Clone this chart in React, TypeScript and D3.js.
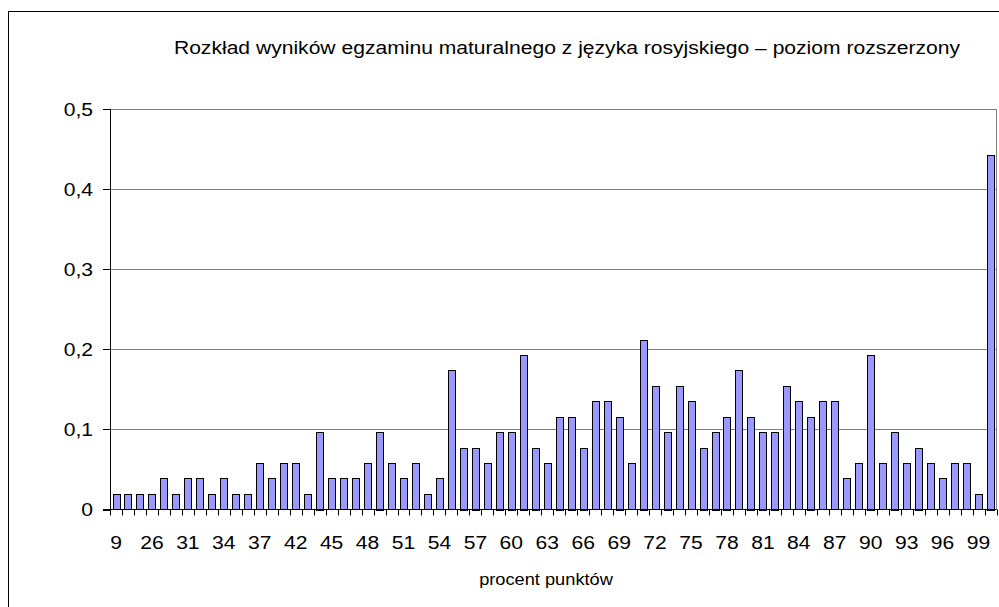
import React from 'react';
import { scaleBand, scaleLinear } from 'd3';

// score categories (percent of points), one bar each
const categories = [
  '9', '20', '23', '26', '28', '29', '31', '32', '33', '34', '35', '36', '37', '39', '40',
  '42', '43', '44', '45', '46', '47', '48', '49', '50', '51', '52', '53', '54', '55', '56',
  '57', '58', '59', '60', '61', '62', '63', '64', '65', '66', '67', '68', '69', '70', '71',
  '72', '73', '74', '75', '76', '77', '78', '79', '80', '81', '82', '83', '84', '85', '86',
  '87', '88', '89', '90', '91', '92', '93', '94', '95', '96', '97', '98', '99', '100',
];

const values = [
  0.019, 0.019, 0.019, 0.019, 0.039, 0.019, 0.039, 0.039, 0.019, 0.039, 0.019, 0.019, 0.058, 0.039, 0.058,
  0.058, 0.019, 0.097, 0.039, 0.039, 0.039, 0.058, 0.097, 0.058, 0.039, 0.058, 0.019, 0.039, 0.174, 0.077,
  0.077, 0.058, 0.097, 0.097, 0.193, 0.077, 0.058, 0.116, 0.116, 0.077, 0.135, 0.135, 0.116, 0.058, 0.212,
  0.154, 0.097, 0.154, 0.135, 0.077, 0.097, 0.116, 0.174, 0.116, 0.097, 0.097, 0.154, 0.135, 0.116, 0.135,
  0.135, 0.039, 0.058, 0.193, 0.058, 0.097, 0.058, 0.077, 0.058, 0.039, 0.058, 0.058, 0.019, 0.443,
];

// only every third category gets a label
const xTickLabels = [
  '9', '26', '31', '34', '37', '42', '45', '48', '51', '54', '57', '60', '63', '66', '69',
  '72', '75', '78', '81', '84', '87', '90', '93', '96', '99',
];

const yTicks = [0, 0.1, 0.2, 0.3, 0.4, 0.5];
const yTickLabels = ['0', '0,1', '0,2', '0,3', '0,4', '0,5'];

const title = 'Rozkład wyników egzaminu maturalnego z języka rosyjskiego – poziom rozszerzony';
const xTitle = 'procent punktów';

const W = 999;
const H = 607;
const plot = { left: 110, right: 996.5, top: 109, bottom: 509.5 };
const font = '"Liberation Sans", Arial, sans-serif';
const stretch = 1.14; // the original text is a bit wider than plain Arial

const Label = ({ x, y, size, anchor = 'middle', children }) => (
  <text
    transform={`translate(${x},${y}) scale(${stretch},1)`}
    fontFamily={font}
    fontSize={size}
    textAnchor={anchor}
    fill='#000'
  >
    {children}
  </text>
);

export default function App() {
  const x = scaleBand()
    .domain(categories)
    .range([plot.left, plot.right])
    .paddingInner(0.42)
    .paddingOuter(0.21);

  const y = scaleLinear().domain([0, 0.5]).range([plot.bottom, plot.top]);

  const step = x.step();
  // tick marks sit on the boundaries between categories
  const boundaries = categories
    .map((c) => x(c) + x.bandwidth() / 2 - step / 2)
    .concat([plot.right]);

  return (
    <div style={{ position: 'absolute', left: 0, top: 0 }}>
      <svg width={W} height={H} style={{ display: 'block', background: '#fff' }}>
        {/* chart frame, runs off the picture on the right and bottom */}
        <rect x={8.5} y={11.5} width={W + 20} height={H + 20} fill='#fff' stroke='#000' />

        <Label x={567} y={54} size={18.5}>
          {title}
        </Label>

        {/* gridlines */}
        {yTicks
          .filter((t) => t > 0)
          .map((t) => (
            <line
              key={'g' + t}
              x1={plot.left - 7}
              x2={plot.right}
              y1={Math.round(y(t)) + 0.5}
              y2={Math.round(y(t)) + 0.5}
              stroke='#808080'
            />
          ))}
        <line x1={plot.right} x2={plot.right} y1={y(0.5)} y2={plot.bottom} stroke='#808080' />

        {/* bars */}
        {values.map((v, i) => (
          <rect
            key={categories[i]}
            x={Math.round(x(categories[i])) + 0.5}
            y={Math.round(y(v)) + 0.5}
            width={Math.round(x.bandwidth())}
            height={Math.round(plot.bottom - y(v))}
            fill='#9999FF'
            stroke='#000'
            strokeWidth={1}
          />
        ))}

        {/* y axis */}
        <line x1={plot.left + 0.5} x2={plot.left + 0.5} y1={y(0.5)} y2={plot.bottom} stroke='#000' />
        {yTicks.map((t, i) => (
          <g key={'y' + t}>
            <line
              x1={plot.left - 7}
              x2={plot.left}
              y1={Math.round(y(t)) + 0.5}
              y2={Math.round(y(t)) + 0.5}
              stroke='#000'
            />
            <Label x={93} y={y(t) + 6.5} size={18.5} anchor='end'>
              {yTickLabels[i]}
            </Label>
          </g>
        ))}

        {/* x axis */}
        <line x1={plot.left - 7} x2={plot.right} y1={plot.bottom} y2={plot.bottom} stroke='#000' />
        {boundaries.map((b, i) => (
          <line
            key={'t' + i}
            x1={Math.round(b) + 0.5}
            x2={Math.round(b) + 0.5}
            y1={plot.bottom}
            y2={plot.bottom + 6}
            stroke='#000'
          />
        ))}
        {xTickLabels.map((c) => (
          <Label key={'x' + c} x={x(c) + x.bandwidth() / 2} y={548.5} size={18.5}>
            {c}
          </Label>
        ))}

        <Label x={546} y={585} size={16}>
          {xTitle}
        </Label>
      </svg>
    </div>
  );
}
